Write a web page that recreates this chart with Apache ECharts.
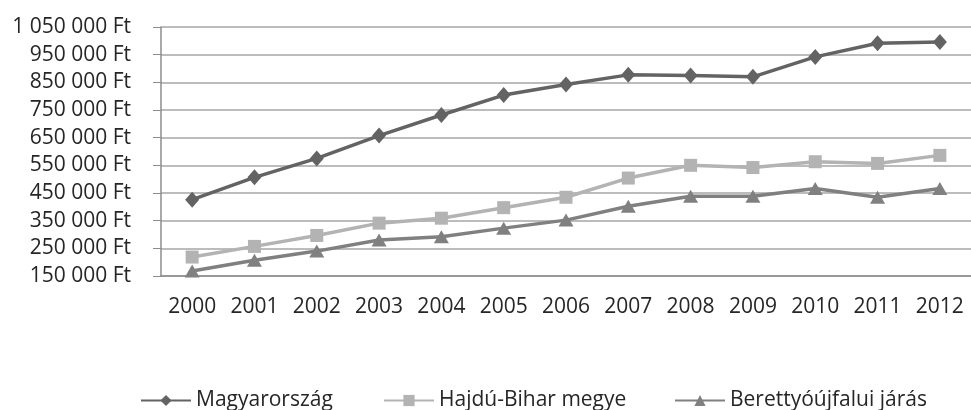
<!DOCTYPE html>
<html>
<head>
<meta charset="utf-8">
<script src="https://cdn.jsdelivr.net/npm/echarts@6/dist/echarts.min.js"></script>
<style>
  html, body { margin: 0; padding: 0; background: #fff; overflow: hidden; }
  #main { width: 971px; height: 410px; }
</style>
</head>
<body>
<div id="main"></div>
<script>
var years = ['2000', '2001', '2002', '2003', '2004', '2005', '2006', '2007', '2008', '2009', '2010', '2011', '2012'];
var magyarorszag = [426000, 506500, 575000, 657600, 732000, 804000, 842500, 877000, 875000, 870000, 942000, 991000, 996000];
var hajduBihar = [218500, 257000, 296500, 341000, 359000, 397000, 434500, 504000, 550000, 542000, 563000, 557000, 586000];
var berettyo = [168000, 206600, 240000, 280000, 292000, 323000, 352000, 402000, 438000, 438000, 466000, 434500, 466000];
var seriesNames = ['Magyarország', 'Hajdú-Bihar megye', 'Berettyóújfalui járás'];

var font = 'Open Sans';
var textColor = '#262626';

function ft(v) {
  // 1050000 -> "1 050 000 Ft"
  return String(v).replace(/\B(?=(\d{3})+(?!\d))/g, ' ') + ' Ft';
}

function legendAt(name, left) {
  return {
    data: [name],
    left: left,
    top: 385,
    itemWidth: 50,
    itemHeight: 14,
    textStyle: { fontFamily: font, fontSize: 21, color: textColor }
  };
}

var chart = echarts.init(document.getElementById('main'));
chart.setOption({
  animation: false,
  backgroundColor: '#fff',
  legend: [
    legendAt(seriesNames[0], 135),
    legendAt(seriesNames[1], 378),
    legendAt(seriesNames[2], 669)
  ],
  grid: { left: 161, right: -13, top: 27, bottom: 134 },
  xAxis: {
    type: 'category',
    data: years,
    boundaryGap: true,
    axisLine: { lineStyle: { color: '#8c8c8c', width: 1.5 } },
    axisTick: { length: 8, lineStyle: { color: '#8c8c8c' } },
    axisLabel: { interval: 0, fontFamily: font, fontSize: 21, color: textColor, margin: 21 }
  },
  yAxis: {
    type: 'value',
    min: 150000,
    max: 1050000,
    interval: 100000,
    axisLine: { show: true, lineStyle: { color: '#8c8c8c', width: 1.5 } },
    axisTick: { show: true, length: 8, lineStyle: { color: '#8c8c8c' } },
    splitLine: { lineStyle: { color: '#a6a6a6', width: 1.5 } },
    axisLabel: { fontFamily: font, fontSize: 21, color: textColor, margin: 30, formatter: ft }
  },
  series: [
    {
      name: seriesNames[0], type: 'line', data: magyarorszag,
      symbol: 'diamond', symbolSize: [14, 16],
      lineStyle: { color: '#636363', width: 3.5 },
      itemStyle: { color: '#636363' }
    },
    {
      name: seriesNames[1], type: 'line', data: hajduBihar,
      symbol: 'rect', symbolSize: 13,
      lineStyle: { color: '#b3b3b3', width: 3.5 },
      itemStyle: { color: '#b3b3b3' }
    },
    {
      name: seriesNames[2], type: 'line', data: berettyo,
      symbol: 'triangle', symbolSize: [15, 13],
      lineStyle: { color: '#808080', width: 3.5 },
      itemStyle: { color: '#808080' }
    }
  ]
});
</script>
</body>
</html>
